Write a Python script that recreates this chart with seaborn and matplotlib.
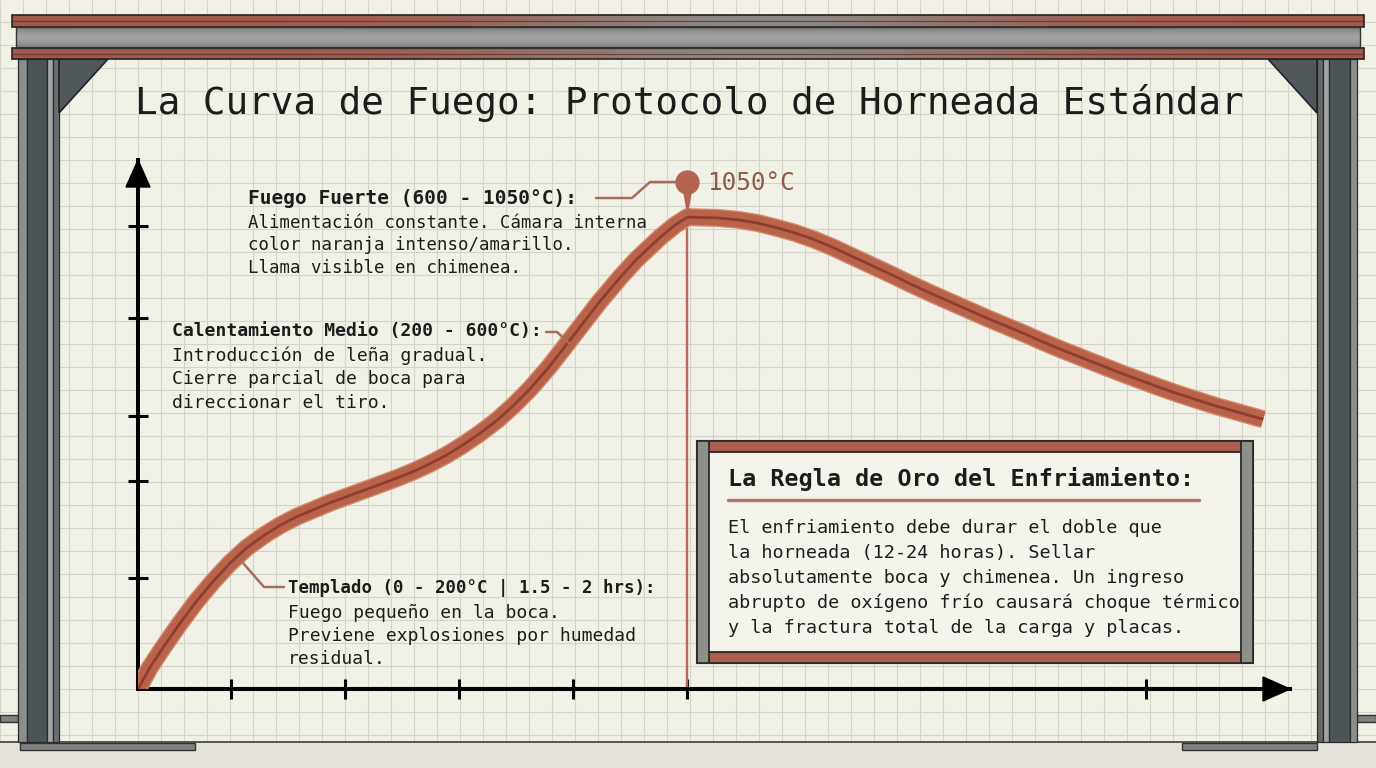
import numpy as np
import seaborn as sns
import matplotlib.pyplot as plt
from matplotlib.patches import Rectangle, Polygon

# firing curve: hours since ignition vs temperature (°C)
hours = [0.0, 0.105, 0.222, 0.368, 0.515, 0.661, 0.807, 0.953, 1.10, 1.245,
         1.39, 1.54, 1.68, 1.83, 1.98, 2.12, 2.27, 2.415, 2.56, 2.71, 2.85,
         3.0, 3.15, 3.29, 3.44, 3.61, 3.80, 4.05, 4.23, 4.37, 4.58, 4.71, 4.82,
         5.09, 5.26, 5.43, 5.59, 5.76, 5.93, 6.10, 6.26, 6.43, 6.60, 6.77,
         6.94, 7.10, 7.27, 7.44, 7.61, 7.78, 7.94, 8.11, 8.28, 8.45, 8.61,
         8.78, 8.95, 9.12, 9.29, 9.45, 9.62, 9.87]
temps = [0, 48, 93, 146, 196, 240, 280, 314, 341, 364,
         383, 399, 414, 428, 442, 455, 469, 484, 501, 521, 543,
         569, 598, 630, 668, 718, 780, 862, 916, 955, 1005, 1032, 1050,
         1048, 1044, 1037, 1027, 1015, 1000, 982, 963, 943, 923, 902,
         882, 864, 845, 826, 808, 790, 772, 754, 737, 720, 704,
         688, 672, 657, 643, 630, 618, 600]

x_ticks = [0.82, 1.82, 2.82, 3.82, 4.82, 8.84]
y_ticks = [247, 463, 607, 825, 1030]

title = "La Curva de Fuego: Protocolo de Horneada Estándar"

fuerte_head = "Fuego Fuerte (600 - 1050°C):"
fuerte_body = ["Alimentación constante. Cámara interna",
               "color naranja intenso/amarillo.",
               "Llama visible en chimenea."]
medio_head = "Calentamiento Medio (200 - 600°C):"
medio_body = ["Introducción de leña gradual.",
              "Cierre parcial de boca para",
              "direccionar el tiro."]
templado_head = "Templado (0 - 200°C | 1.5 - 2 hrs):"
templado_body = ["Fuego pequeño en la boca.",
                 "Previene explosiones por humedad",
                 "residual."]
regla_head = "La Regla de Oro del Enfriamiento:"
regla_body = ["El enfriamiento debe durar el doble que",
              "la horneada (12-24 horas). Sellar",
              "absolutamente boca y chimenea. Un ingreso",
              "abrupto de oxígeno frío causará choque térmico",
              "y la fractura total de la carga y placas."]

sns.set_style("white")
plt.rcParams["font.family"] = ["DejaVu Sans Mono", "DejaVu Sans"]

INK = "#1c1c1c"
RUST = "#b9634b"
RUST_DARK = "#8f3d2d"
RUST_LIGHT = "#d08c6c"
LEADER = "#a86e5c"

W, H = 1376, 768
fig = plt.figure(figsize=(W / 100, H / 100), dpi=100)
fig.patch.set_facecolor("#f2f1e7")

# ---- background: graph paper + steel frame (pixel coordinates)
bg = fig.add_axes([0, 0, 1, 1])
bg.set_xlim(0, W)
bg.set_ylim(H, 0)
bg.axis("off")
bg.set_facecolor("#f2f1e7")
bg.vlines(np.arange(0, W, 23), 0, H, color="#d4d3c9", lw=0.8, zorder=0)
bg.hlines(np.arange(22, H, 23), 0, W, color="#d4d3c9", lw=0.8, zorder=0)

# floor strip
bg.add_patch(Rectangle((0, 742), W, 26, fc="#e4e2da", ec="none", zorder=1))
bg.hlines(742, 0, W, color="#3a3a3a", lw=1.2, zorder=2)
for x0, w in [(20, 175), (1182, 135)]:
    bg.add_patch(Rectangle((x0, 743), w, 7, fc="#7f8281", ec="#333333", lw=1, zorder=2))
for x0, w in [(0, 18), (1357, 19)]:
    bg.add_patch(Rectangle((x0, 715), w, 7, fc="#7f8281", ec="#333333", lw=1, zorder=2))

# columns
for strips in ([(18, 9, "#8a8e8e"), (27, 20, "#4b5557"), (47, 6, "#a3a6a5"), (53, 6, "#6a6f71")],
               [(1317, 6, "#64696b"), (1323, 6, "#a0a3a2"), (1329, 21, "#4b5557"), (1350, 7, "#8a8e8e")]):
    for x0, w, c in strips:
        bg.add_patch(Rectangle((x0, 59), w, 683, fc=c, ec="#2a2a2a", lw=0.9, zorder=3))

bg.add_patch(Polygon([(59, 59), (108, 59), (59, 113)], closed=True,
                     fc="#51585b", ec="#222222", lw=1.2, zorder=3))
bg.add_patch(Polygon([(1268, 59), (1317, 59), (1317, 113)], closed=True,
                     fc="#51585b", ec="#222222", lw=1.2, zorder=3))

# top beam: flanges fade from rust at the ends to grey in the middle
xs = np.linspace(12, 1364, 400)
wgt = np.exp(-((xs - 760) / 260) ** 2)[None, :, None]
red = np.array([0.63, 0.35, 0.29])
grey = np.array([0.55, 0.54, 0.53])
flange = red * (1 - wgt) + grey * wgt
for y0, hgt in [(15, 12), (48, 11)]:
    bg.imshow(flange, extent=(12, 1364, y0 + hgt, y0), aspect="auto", zorder=4)
    bg.add_patch(Rectangle((12, y0), 1352, hgt, fc="none", ec="#2a2020", lw=1.2, zorder=5))
    bg.hlines(y0 + hgt / 2, 12, 1364, color="#5a2c24", lw=0.9, alpha=0.7, zorder=5)
web = np.array([0.47, 0.48, 0.47]) + 0.16 * np.sin(np.linspace(0, np.pi, 21))[:, None, None]
bg.imshow(np.repeat(web, 2, axis=1), extent=(16, 1360, 48, 27), aspect="auto", zorder=4)
bg.add_patch(Rectangle((16, 27), 1344, 21, fc="none", ec="#333333", lw=1, zorder=5))
bg.set_xlim(0, W)
bg.set_ylim(H, 0)

# ---- chart axes
ax = fig.add_axes([138 / W, (H - 689) / H, 1152 / W, 529 / H])
ax.set_facecolor("none")
ax.set_xlim(0, 10.105)
ax.set_ylim(0, 1177)

peak_i = int(np.argmax(temps))
peak_h, peak_t = hours[peak_i], temps[peak_i]
ax.plot([peak_h, peak_h], [0, peak_t], color="#b86a55", lw=1.7, zorder=2)

style = dict(ax=ax, sort=False, estimator=None, solid_capstyle="butt", solid_joinstyle="round")
sns.lineplot(x=hours, y=temps, color=RUST_LIGHT, linewidth=13, zorder=3, **style)
sns.lineplot(x=hours, y=temps, color=RUST, linewidth=11, zorder=4, **style)
sns.lineplot(x=hours, y=temps, color=RUST_DARK, linewidth=2.0, zorder=5, **style)

# pin marking the peak
ax.add_patch(Polygon([(peak_h - 0.045, peak_t + 66), (peak_h + 0.045, peak_t + 66),
                      (peak_h, peak_t)], closed=True, fc="#b5654f", ec="none",
                     clip_on=False, zorder=6))
ax.plot([peak_h], [peak_t + 78], "o", ms=16.5, color="#b5654f", clip_on=False, zorder=6)
ax.text(peak_h + 0.17, peak_t + 76, f"{peak_t:.0f}°C", fontsize=17.5, color="#8d5a48",
        ha="left", va="center", zorder=6)

for s in ["top", "right"]:
    ax.spines[s].set_visible(False)
for s in ["left", "bottom"]:
    ax.spines[s].set_linewidth(2.9)
    ax.spines[s].set_color("black")
ax.set_xticks(x_ticks)
ax.set_yticks(y_ticks)
ax.tick_params(axis="both", bottom=True, left=True, direction="inout", length=14,
               width=2.2, color="black", labelleft=False, labelbottom=False)
ax.set_xlabel("")
ax.set_ylabel("")

# ---- overlay: arrows, notes, box, title (pixel coordinates)
top = fig.add_axes([0, 0, 1, 1])
top.set_facecolor("none")
top.set_xlim(0, W)
top.set_ylim(H, 0)
top.axis("off")

top.add_patch(Polygon([(138, 160), (126, 187), (150, 187)], closed=True, fc="black", ec="black"))
top.add_patch(Polygon([(1290, 689), (1263, 677), (1263, 701)], closed=True, fc="black", ec="black"))

top.text(689, 103, title, ha="center", va="center", fontsize=27.1, color=INK)


def note(x, y, head, body, head_size, body_size, step):
    top.text(x, y, head, ha="left", va="center", fontsize=head_size,
             fontweight="bold", color=INK)
    for i, line in enumerate(body):
        top.text(x, y + 25 + i * step, line, ha="left", va="center",
                 fontsize=body_size, color=INK)


note(248, 198, fuerte_head, fuerte_body, 14, 12.5, 22.5)
note(172, 331, medio_head, medio_body, 13, 13, 23.5)
note(288, 588, templado_head, templado_body, 12.5, 13, 23)

top.plot([596, 632, 650, 680], [198, 198, 182, 182], color=LEADER, lw=1.8)
top.plot([546, 557, 569], [332, 332, 343], color=LEADER, lw=1.8)
top.plot([284, 264, 243], [587, 587, 563], color=LEADER, lw=1.8)

# golden-rule box
top.add_patch(Rectangle((697, 441), 556, 222, fc="#f5f4ec", ec="#2a2a2a", lw=1.5))
for y0 in [441, 652]:
    top.add_patch(Rectangle((697, y0), 556, 11, fc="#a95f4b", ec="#2a2a2a", lw=1.3))
for x0 in [697, 1241]:
    top.add_patch(Rectangle((x0, 441), 12, 222, fc="#8e8f8b", ec="#2a2a2a", lw=1.3))
top.text(728, 479, regla_head, ha="left", va="center", fontsize=16.8,
         fontweight="bold", color=INK)
top.plot([728, 1199], [500, 500], color="#b07462", lw=2.4)
for i, line in enumerate(regla_body):
    top.text(728, 528 + i * 25, line, ha="left", va="center", fontsize=13.3, color=INK)

fig.savefig("out.png", dpi=100)
